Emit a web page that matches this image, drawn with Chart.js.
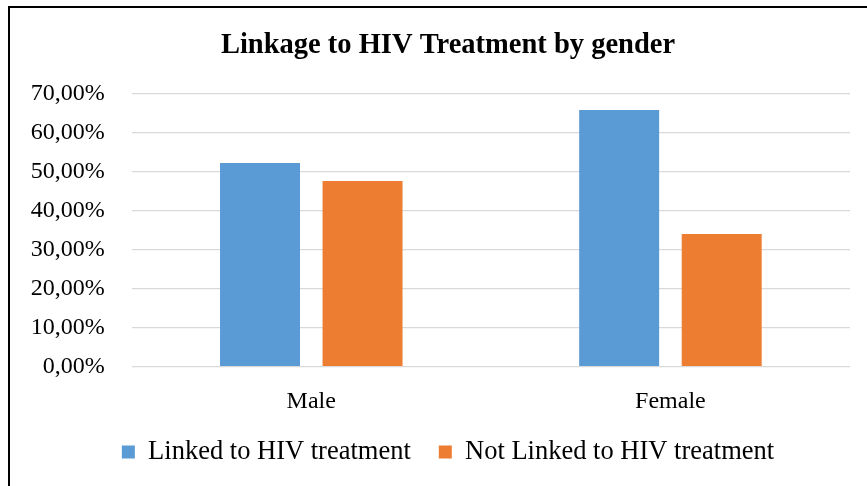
<!DOCTYPE html>
<html>
<head>
<meta charset="utf-8">
<script src="https://cdn.jsdelivr.net/npm/chart.js@4"></script>
<style>
    body { margin: 0; background: #fff; overflow: hidden; width: 867px; height: 486px; }
    #frame {
        position: absolute;
        left: 8px;
        top: 6px;
        border-left: 2px solid #000;
        border-top: 2px solid #000;
    }
    #linkageChart { display: block; }
</style>
</head>
<body>
<div id="frame">
    <canvas id="linkageChart" width="876" height="487"></canvas>
</div>
<script>
// Dữ liệu biểu đồ (%)
const genders = ['Male', 'Female'];
const linkedValues = [52.3, 65.9];
const notLinkedValues = [47.7, 34.1];
const seriesNames = ['Linked to HIV treatment', 'Not Linked to HIV treatment'];
const chartTitle = 'Linkage to HIV Treatment by gender';

const serif = '"Liberation Serif", "Times New Roman", serif';

function formatPercent(value) {
    return value.toFixed(2).replace('.', ',') + '%';
}

new Chart(document.getElementById('linkageChart'), {
    type: 'bar',
    data: {
        labels: genders,
        datasets: [{
            label: seriesNames[0],
            data: linkedValues,
            backgroundColor: '#5B9BD5',
            categoryPercentage: 0.571,
            barPercentage: 0.78
        }, {
            label: seriesNames[1],
            data: notLinkedValues,
            backgroundColor: '#ED7D31',
            categoryPercentage: 0.571,
            barPercentage: 0.78
        }]
    },
    options: {
        responsive: false,
        animation: false,
        layout: { padding: { bottom: 19.75 } },
        plugins: {
            title: {
                display: true,
                text: chartTitle,
                color: '#000',
                font: { family: serif, size: 28.5, weight: 'bold' },
                padding: { top: 21, bottom: 30.8 }
            },
            legend: {
                position: 'bottom',
                labels: {
                    color: '#000',
                    font: { family: serif, size: 26.5 },
                    boxWidth: 13,
                    boxHeight: 13,
                    padding: 28
                }
            },
            tooltip: { enabled: false }
        },
        scales: {
            x: {
                grid: { display: false },
                border: { display: false },
                ticks: {
                    color: '#000',
                    font: { family: serif, size: 24 },
                    padding: 13
                },
                afterFit: function (scale) { scale.height = 44; }
            },
            y: {
                min: 0,
                max: 70,
                grid: { color: '#d9d9d9', lineWidth: 1.3, drawTicks: false },
                border: { display: false },
                ticks: {
                    stepSize: 10,
                    color: '#000',
                    font: { family: serif, size: 24 },
                    padding: 27,
                    callback: function (value) { return formatPercent(value); }
                },
                afterFit: function (scale) { scale.width = 121.7; }
            },
            // khoảng trống bên phải vùng vẽ
            y2: {
                position: 'right',
                grid: { display: false },
                border: { display: false },
                ticks: { display: false },
                afterFit: function (scale) { scale.width = 36; }
            }
        }
    }
});
</script>
</body>
</html>
